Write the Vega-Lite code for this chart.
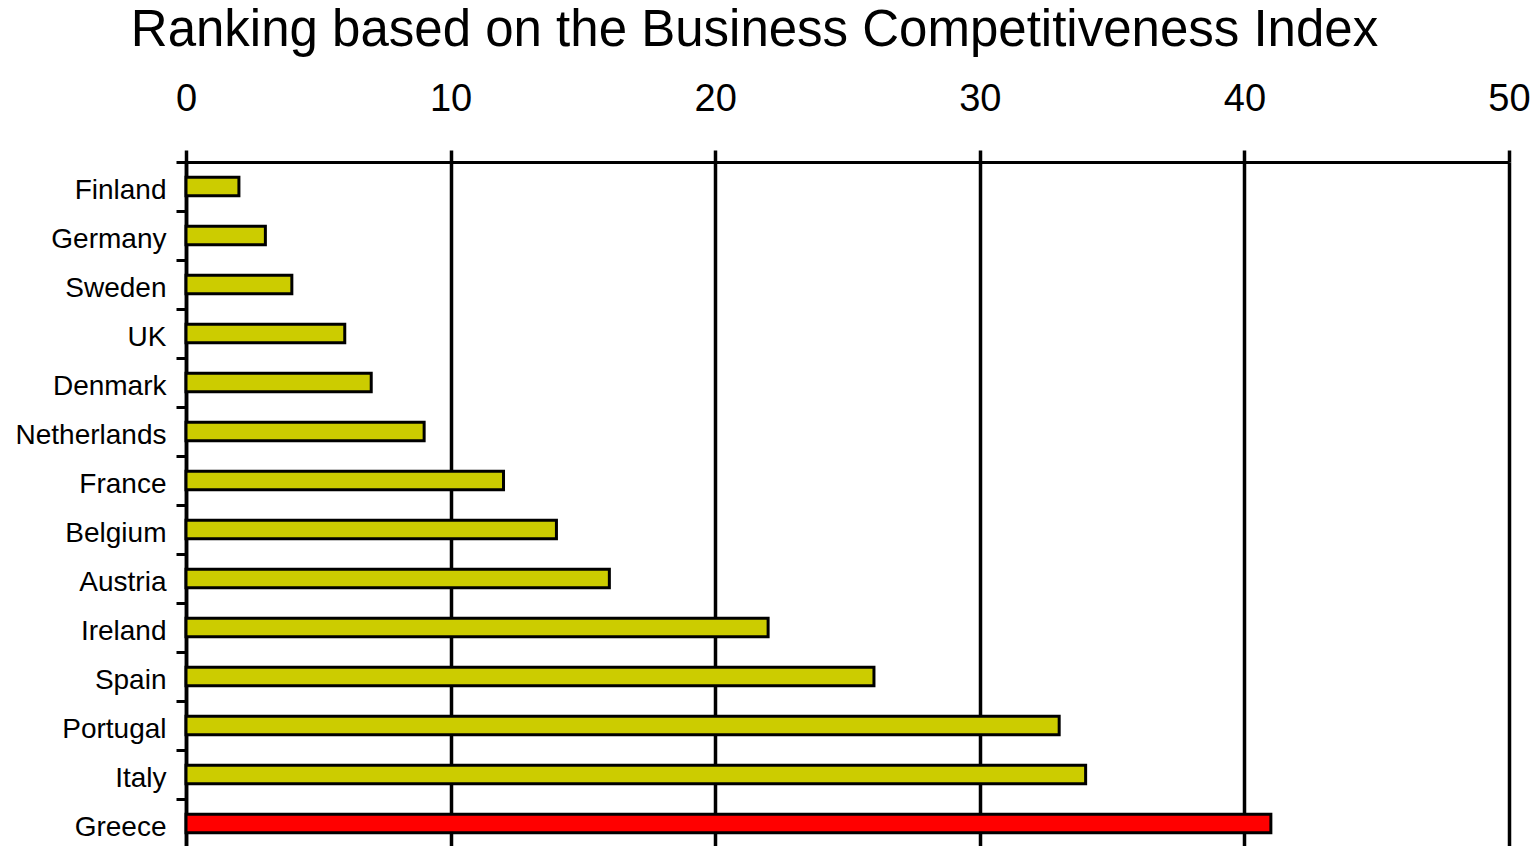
{
  "$schema": "https://vega.github.io/schema/vega-lite/v6.json",
  "autosize": "none",
  "width": 1323,
  "height": 686,
  "padding": {"left": 186, "top": 162, "right": 29, "bottom": 0},
  "background": "white",
  "config": {
    "font": "Liberation Sans",
    "view": {"stroke": null}
  },
  "title": {
    "text": "Ranking based on the Business Competitiveness Index",
    "fontSize": 51,
    "fontWeight": "normal",
    "color": "black",
    "anchor": "middle",
    "frame": "group",
    "dx": -93,
    "offset": 23
  },
  "data": {
    "values": [
      {"country": "Finland", "rank": 2, "group": "other"},
      {"country": "Germany", "rank": 3, "group": "other"},
      {"country": "Sweden", "rank": 4, "group": "other"},
      {"country": "UK", "rank": 6, "group": "other"},
      {"country": "Denmark", "rank": 7, "group": "other"},
      {"country": "Netherlands", "rank": 9, "group": "other"},
      {"country": "France", "rank": 12, "group": "other"},
      {"country": "Belgium", "rank": 14, "group": "other"},
      {"country": "Austria", "rank": 16, "group": "other"},
      {"country": "Ireland", "rank": 22, "group": "other"},
      {"country": "Spain", "rank": 26, "group": "other"},
      {"country": "Portugal", "rank": 33, "group": "other"},
      {"country": "Italy", "rank": 34, "group": "other"},
      {"country": "Greece", "rank": 41, "group": "Greece"}
    ]
  },
  "mark": {"type": "bar", "stroke": "black", "strokeWidth": 3, "height": {"band": 0.38}},
  "encoding": {
    "y": {
      "field": "country",
      "type": "nominal",
      "sort": null,
      "scale": {"paddingInner": 0, "paddingOuter": 0},
      "axis": {
        "title": null,
        "tickBand": "extent",
        "domainColor": "black",
        "domainWidth": 3.5,
        "tickColor": "black",
        "tickWidth": 3,
        "tickSize": 10,
        "labelFontSize": 28,
        "labelColor": "black",
        "labelPadding": 10,
        "labelOffset": 4,
        "grid": false
      }
    },
    "x": {
      "field": "rank",
      "type": "quantitative",
      "scale": {"domain": [0, 50], "nice": false},
      "axis": {
        "orient": "top",
        "title": null,
        "values": [0, 10, 20, 30, 40, 50],
        "domainColor": "black",
        "domainWidth": 3,
        "tickColor": "black",
        "tickWidth": 3.5,
        "tickSize": 12,
        "labelFontSize": 38,
        "labelColor": "black",
        "labelPadding": 32,
        "labelFlush": false,
        "grid": true,
        "gridColor": "black",
        "gridWidth": 3.5,
        "gridOpacity": 1
      }
    },
    "color": {
      "field": "group",
      "type": "nominal",
      "scale": {"domain": ["other", "Greece"], "range": ["#CCCC00", "#FF0000"]},
      "legend": null
    }
  }
}
